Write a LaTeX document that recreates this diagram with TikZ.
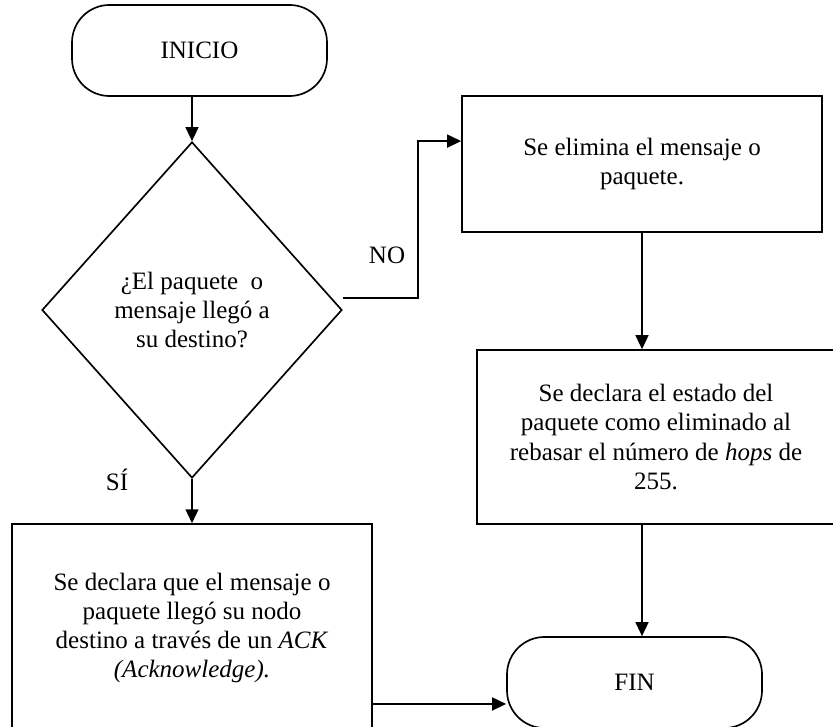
\documentclass[tikz,border=0pt]{standalone}
\usepackage{fontspec}
\setmainfont{Liberation Serif}
\usetikzlibrary{arrows.meta, positioning, shapes}

\begin{document}
\begin{tikzpicture}[x=0.48pt, y=-0.48pt,
    every node/.style={font=\fontsize{12}{14}\selectfont},
    term/.style={draw, line width=0.8pt, rounded corners=18pt, minimum width=122.4pt, minimum height=43.7pt},
    caja/.style={draw, line width=0.8pt, align=center, inner sep=0pt},
    decision/.style={draw, line width=0.8pt, diamond, align=center, inner sep=0pt, minimum width=144pt, minimum height=161.3pt},
    flecha/.style={line width=0.8pt, -{Triangle[length=6.7pt, width=6.2pt]}}]
\useasboundingbox[fill=white] (0,0) rectangle (833,727);

% nodos
\node[term] (inicio) at (199.5, 50.5) {INICIO};
\node[decision] (dec) at (192, 310) {¿El paquete\ \ o\\mensaje llegó a\\su destino?};
\node[caja, minimum width=172.8pt, minimum height=65.3pt] (elim) at (642, 164) {Se elimina el mensaje o\\paquete.};
\node[caja, minimum width=171.8pt, minimum height=83.5pt] (estado) at (656, 437)
    {Se declara el estado del\\paquete como eliminado al\\rebasar el número de \textit{hops} de\\255.};
\node[caja, minimum width=172.8pt, minimum height=99.8pt] (ack) at (192, 628)
    {Se declara que el mensaje o\\paquete llegó su nodo\\destino a través de un \textit{ACK}\\\textit{(Acknowledge).}};
\node[term] (fin) at (634.5, 682.5) {FIN};
\node (no) at (387, 255) {NO};
\node (si) at (117, 480) {SÍ};

% conectores
\draw[flecha] (dec.north |- inicio.south) -- (dec.north);
\draw[flecha] ([yshift=5.8pt]dec.east) -- ++(75,0) |- ([yshift=11pt]elim.west);
\draw[flecha] (dec.south) -- (ack.north);
\draw[flecha] (elim.south) -- (elim.south |- estado.north);
\draw[flecha] (elim.south |- estado.south) -- (elim.south |- fin.north);
\coordinate (finin) at ([yshift=-10.3pt]fin.west);
\draw[flecha] (ack.east |- finin) -- (finin);
\end{tikzpicture}
\end{document}
